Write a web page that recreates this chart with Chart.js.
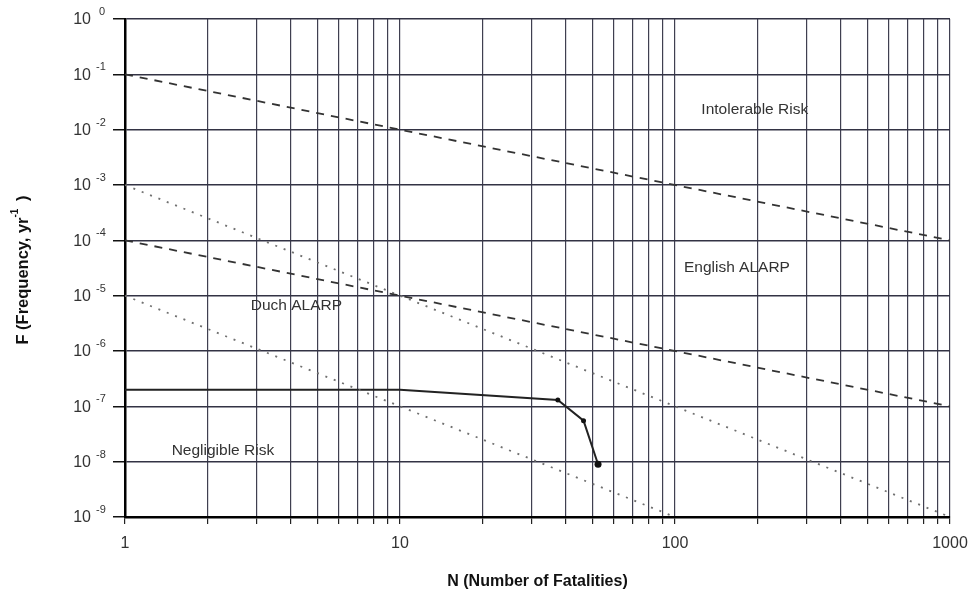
<!DOCTYPE html>
<html>
<head>
<meta charset="utf-8">
<title>F-N curve</title>
<script src="https://cdn.jsdelivr.net/npm/chart.js@4.4.1/dist/chart.umd.min.js"></script>
<style>
  html, body { margin: 0; padding: 0; background: #fff; }
  #wrap { width: 980px; height: 594px; position: relative; }
</style>
</head>
<body>
<div id="wrap"><canvas id="fn_chart"></canvas></div>
<script>
// criterion lines (N, F)
var intolerableN = [1, 1000],
	intolerableF = [1e-1, 1e-4],
	englishN = [1, 1000],
	englishF = [1e-4, 1e-7],
	dutchUpperN = [1, 1000],
	dutchUpperF = [1e-3, 1e-9],
	dutchLowerN = [1, 100],
	dutchLowerF = [1e-5, 1e-9],
	// computed F-N curve
	curveN = [1, 10, 37.5, 46.5, 52.5],
	curveF = [2e-7, 2e-7, 1.3e-7, 5.5e-8, 9e-9],
	// region labels
	regionText = ['Intolerable Risk', 'English ALARP', 'Duch ALARP', 'Negligible Risk'],
	regionN = [195, 168, 4.2, 2.27],
	regionF = [10 ** -1.64, 10 ** -4.5, 10 ** -5.18, 10 ** -7.8],
	// axis ticks
	xTicks = [],
	xLabels = [1, 10, 100, 1000],
	yExponents = [0, -1, -2, -3, -4, -5, -6, -7, -8, -9];

for (let d = 1; d <= 100; d *= 10) {
	for (let k = 1; k <= 9; k++) {
		xTicks.push(k * d);
	}
}
xTicks.push(1000);

function pts(xs, ys) {
	return xs.map(function(x, i) { return { x: x, y: ys[i] }; });
}

var lineStyle = function(xs, ys, dash, color, width) {
	return {
		data: pts(xs, ys),
		showLine: true,
		borderColor: color,
		borderWidth: width,
		borderDash: dash,
		pointRadius: 0,
		fill: false
	};
};

var datasets = [
	lineStyle(intolerableN, intolerableF, [8, 7], '#333', 1.8),
	lineStyle(englishN, englishF, [8, 7], '#333', 1.8),
	lineStyle(dutchUpperN, dutchUpperF, [2, 7], '#707070', 1.8),
	lineStyle(dutchLowerN, dutchLowerF, [2, 7], '#707070', 1.8),
	{
		data: pts(curveN, curveF),
		showLine: true,
		borderColor: '#222',
		borderWidth: 2,
		pointRadius: [0, 0, 2.5, 2.5, 3.5],
		pointBackgroundColor: '#111',
		pointBorderWidth: 0,
		fill: false
	}
];

var FONT = '"Liberation Sans", Arial, sans-serif';

// y tick labels with superscript exponents, axis title and region labels
var annotate = {
	id: 'annotate',
	afterDraw: function(chart) {
		const ctx = chart.ctx;
		const xs = chart.scales.x, ys = chart.scales.y;
		ctx.save();
		ctx.fillStyle = '#333';
		ctx.textBaseline = 'middle';
		yExponents.forEach(function(e) {
			const py = ys.getPixelForValue(10 ** e);
			const sup = e === 0 ? '0' : '-' + (-e);
			ctx.font = '11px ' + FONT;
			ctx.textAlign = 'left';
			ctx.fillText(sup, e === 0 ? 99 : 96, py - 7);
			ctx.font = '16px ' + FONT;
			ctx.textAlign = 'right';
			ctx.fillText('10', 91, py + 1);
		});

		// rotated y title
		ctx.fillStyle = '#111';
		ctx.translate(23, 270);
		ctx.rotate(-Math.PI / 2);
		ctx.font = 'bold 16.5px ' + FONT;
		ctx.textAlign = 'left';
		const main = 'F (Frequency, yr';
		const mw = ctx.measureText(main).width;
		const total = mw + 12 + ctx.measureText(' )').width;
		let px = -total / 2;
		ctx.fillText(main, px, 0);
		px += mw;
		ctx.font = 'bold 10px ' + FONT;
		ctx.fillText('-1', px, -8);
		px += 12;
		ctx.font = 'bold 16.5px ' + FONT;
		ctx.fillText(' )', px, 0);
		ctx.restore();

		ctx.save();
		ctx.fillStyle = '#333';
		ctx.font = '15.5px ' + FONT;
		ctx.textAlign = 'center';
		ctx.textBaseline = 'middle';
		regionText.forEach(function(t, i) {
			ctx.fillText(t, xs.getPixelForValue(regionN[i]), ys.getPixelForValue(regionF[i]));
		});
		ctx.restore();
	}
};

var config = {
	type: 'scatter',
	data: { datasets: datasets },
	plugins: [annotate],
	options: {
		responsive: true,
		maintainAspectRatio: false,
		animation: false,
		layout: { padding: { top: 19, right: 30, left: 0, bottom: 0 } },
		plugins: {
			legend: { display: false },
			tooltip: { enabled: false }
		},
		scales: {
			x: {
				type: 'logarithmic',
				min: 1,
				max: 1000,
				afterBuildTicks: function(scale) {
					scale.ticks = xTicks.map(function(v) { return { value: v }; });
				},
				afterFit: function(scale) { scale.height = 77; },
				ticks: {
					autoSkip: false,
					maxRotation: 0,
					padding: 10,
					color: '#333',
					font: { family: FONT, size: 16 },
					callback: function(v) {
						return xLabels.indexOf(v) >= 0 ? String(v) : '';
					}
				},
				grid: {
					color: '#3f3f50',
					lineWidth: 1.2,
					tickLength: 7,
					tickColor: '#222'
				},
				border: { color: '#000', width: 2.5 },
				title: {
					display: true,
					text: 'N (Number of Fatalities)',
					color: '#111',
					font: { family: FONT, size: 16, weight: 'bold' },
					padding: { top: 14, bottom: 3 }
				}
			},
			y: {
				type: 'logarithmic',
				min: 1e-9,
				max: 1,
				afterBuildTicks: function(scale) {
					scale.ticks = yExponents.map(function(e) { return { value: 10 ** e }; });
				},
				afterFit: function(scale) { scale.width = 125; },
				ticks: { display: false },
				grid: {
					color: '#333344',
					lineWidth: 1.5,
					tickLength: 12,
					tickColor: '#111'
				},
				border: { color: '#000', width: 2.5 }
			}
		}
	}
};

new Chart(document.getElementById('fn_chart').getContext('2d'), config);
</script>
</body>
</html>
